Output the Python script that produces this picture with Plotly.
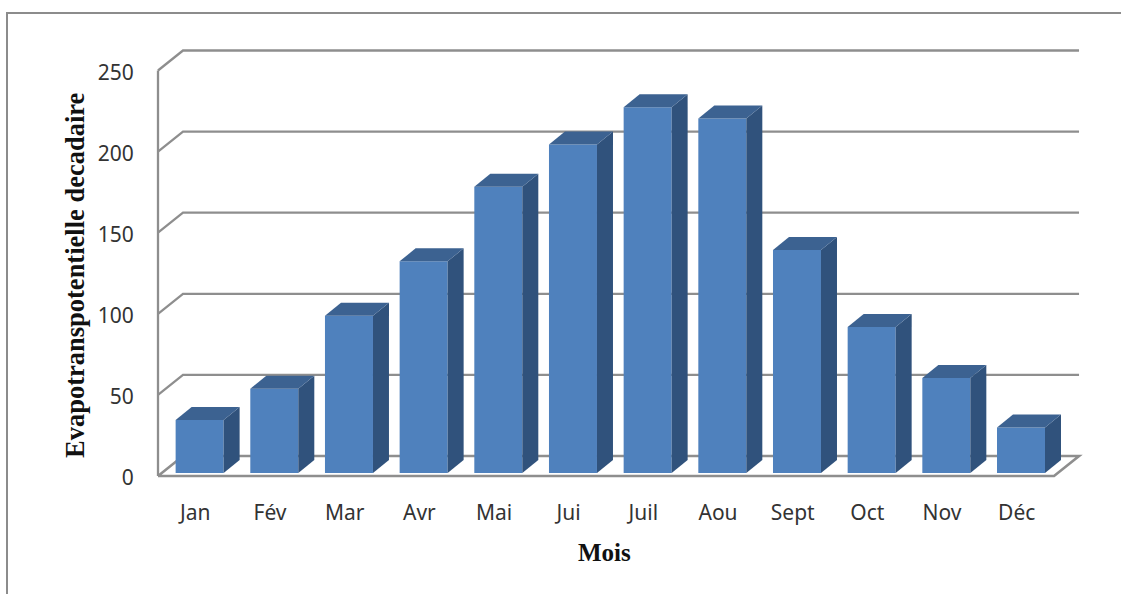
import plotly.graph_objects as go

months = ["Jan", "Fév", "Mar", "Avr", "Mai", "Jui", "Juil", "Aou", "Sept", "Oct", "Nov", "Déc"]
etp = [32.7, 52, 97, 130.5, 176.5, 202.5, 225.5, 218.5, 137.5, 90, 58.5, 28]
y_ticks = [0, 50, 100, 150, 200, 250]

W, H = 1121, 594
PLOT_L, PLOT_R, PLOT_T, PLOT_B = 150, 1085, 40, 484
SLOT_PX = 74.67
UNIT_PX = 1.622
X0_PX = 195.33   # pixel of category 0
Y0_PX = 478.0    # pixel of value 0


def ux(px):
    return px / SLOT_PX


def uy(px):
    return px / UNIT_PX


x_range = [(PLOT_L - X0_PX) / SLOT_PX, (PLOT_R - X0_PX) / SLOT_PX]
y_range = [(Y0_PX - PLOT_B) / UNIT_PX, (Y0_PX - PLOT_T) / UNIT_PX]

WALL_DX, WALL_DY = ux(25), uy(20)
WALL_BASE = uy(2)
LEFT = -0.5
RIGHT = 11.5
BAR_SHIFT = ux(4.3)
BAR_BASE = uy(5)
BAR_W = ux(48)
BAR_DX, BAR_DY = ux(16), uy(13)

FRONT = "#4F81BD"
SIDE = "#30527C"
TOP = "#3C6291"
GRID = "#8E8E8E"
FONT = "Noto Sans"
TITLE_FONT = "Liberation Serif"
TEXT = "#333333"

shapes = []


def line(xs, ys, width=2.3):
    path = "M " + " L ".join(f"{x},{y}" for x, y in zip(xs, ys))
    shapes.append(dict(type="path", path=path, xref="x", yref="y", layer="below",
                       line=dict(color=GRID, width=width)))


for v in y_ticks[1:]:
    base = v + WALL_BASE
    line([LEFT, LEFT + WALL_DX, RIGHT + WALL_DX], [base, base + WALL_DY, base + WALL_DY])

# left wall and floor
line([LEFT, LEFT], [WALL_BASE, y_ticks[-1] + WALL_BASE])
line([LEFT, LEFT + WALL_DX, RIGHT + WALL_DX, RIGHT, LEFT],
     [WALL_BASE, WALL_BASE + WALL_DY, WALL_BASE + WALL_DY, WALL_BASE, WALL_BASE], width=2.6)


def px_x(px):
    return (px - PLOT_L) / (PLOT_R - PLOT_L)


def px_y(px):
    return (PLOT_B - px) / (PLOT_B - PLOT_T)


# outer frame of the picture
frame = [(7, 594), (7, 13), (1121, 13)]
shapes.append(dict(type="path", xref="paper", yref="paper", layer="below",
                   path="M " + " L ".join(f"{px_x(a)},{px_y(b)}" for a, b in frame),
                   line=dict(color="#8C8C8C", width=2)))

fig = go.Figure()
xs = [i + BAR_SHIFT for i in range(len(months))]

fig.add_trace(go.Bar(x=xs, y=etp, base=[BAR_BASE] * len(etp), width=BAR_W,
                     marker=dict(color=FRONT, line=dict(width=0)), name="ETP",
                     showlegend=False))

for x, v in zip(xs, etp):
    l, r = x - BAR_W / 2, x + BAR_W / 2
    b, t = BAR_BASE, BAR_BASE + v
    fig.add_trace(go.Scatter(x=[r, r + BAR_DX, r + BAR_DX, r, r],
                             y=[b, b + BAR_DY, t + BAR_DY, t, b],
                             mode="lines", fill="toself", fillcolor=SIDE,
                             line=dict(width=0), showlegend=False, hoverinfo="skip"))
    fig.add_trace(go.Scatter(x=[l, r, r + BAR_DX, l + BAR_DX, l],
                             y=[t, t, t + BAR_DY, t + BAR_DY, t],
                             mode="lines", fill="toself", fillcolor=TOP,
                             line=dict(width=0), showlegend=False, hoverinfo="skip"))

fig.update_layout(
    width=W, height=H, autosize=False,
    margin=dict(l=PLOT_L, r=W - PLOT_R, t=PLOT_T, b=H - PLOT_B, pad=0),
    paper_bgcolor="white", plot_bgcolor="rgba(0,0,0,0)",
    showlegend=False, shapes=shapes,
    font=dict(family=FONT, size=21, color=TEXT),
    xaxis=dict(range=x_range, tickmode="array", tickvals=list(range(len(months))), ticktext=months,
               showgrid=False, zeroline=False, showline=False,
               ticks="outside", ticklen=10, tickcolor="rgba(0,0,0,0)",
               tickfont=dict(family=FONT, size=21, color=TEXT)),
    yaxis=dict(range=y_range, tickmode="array", tickvals=y_ticks,
               showgrid=False, zeroline=False, showline=False,
               ticks="outside", ticklen=11, tickcolor="rgba(0,0,0,0)",
               tickfont=dict(family=FONT, size=21, color=TEXT)),
    annotations=[
        dict(text="<b>Mois</b>", xref="paper", yref="paper", x=px_x(604), y=px_y(552),
             xanchor="center", yanchor="middle",
             showarrow=False, font=dict(family=TITLE_FONT, size=25, color="#111111")),
        dict(text="<b>Evapotranspotentielle decadaire</b>", xref="paper", yref="paper",
             x=px_x(75), y=px_y(275), xanchor="center", yanchor="middle", textangle=-90,
             showarrow=False, font=dict(family=TITLE_FONT, size=26.5, color="#111111")),
    ],
)

fig.write_html("out.html", config=dict(displayModeBar=False),
               post_script="document.body.style.margin='0';")
